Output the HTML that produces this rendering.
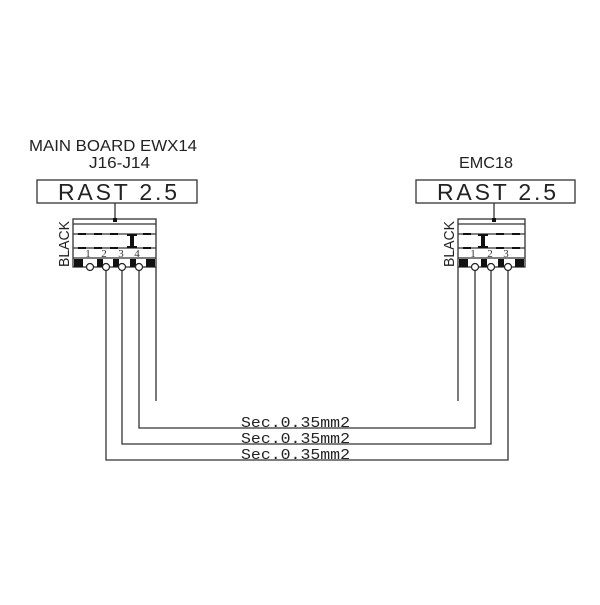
<!DOCTYPE html>
<html><head><style>body{margin:0;background:#fff}</style></head><body>
<svg width="600" height="600" xmlns="http://www.w3.org/2000/svg">
<rect width="600" height="600" fill="#fff"/>
<g font-family="Liberation Sans, sans-serif" fill="#222">
<text x="29" y="151" font-size="16" textLength="168" lengthAdjust="spacingAndGlyphs">MAIN BOARD EWX14</text>
<text x="89" y="168" font-size="16" textLength="61" lengthAdjust="spacingAndGlyphs">J16-J14</text>
<text x="459" y="168" font-size="16" textLength="54" lengthAdjust="spacingAndGlyphs">EMC18</text>
</g>
<g stroke="#333" stroke-width="1.3" fill="none">
<rect x="37" y="180" width="160" height="23"/>
<rect x="416" y="180" width="159" height="23"/>
<line x1="115" y1="203" x2="115" y2="220"/>
<line x1="494" y1="203" x2="494" y2="220"/>
<rect x="73" y="219" width="83" height="48"/>
<line x1="73" y1="224" x2="156" y2="224"/>
<line x1="73" y1="234" x2="156" y2="234"/>
<line x1="73" y1="248" x2="156" y2="248"/>
<line x1="73" y1="258" x2="156" y2="258"/>
<rect x="458" y="219" width="67" height="48"/>
<line x1="458" y1="224" x2="525" y2="224"/>
<line x1="458" y1="234" x2="525" y2="234"/>
<line x1="458" y1="248" x2="525" y2="248"/>
<line x1="458" y1="258" x2="525" y2="258"/>
<polyline points="106,270 106,460 508,460 508,270"/>
<polyline points="122,270 122,444 491,444 491,270"/>
<polyline points="139,270 139,428 475,428 475,270"/>
<line x1="156" y1="267" x2="156" y2="401"/>
<line x1="458" y1="267" x2="458" y2="401"/>
</g>
<g fill="#111">
<rect x="113" y="218" width="4" height="4"/>
<rect x="492" y="218" width="4" height="4"/>
<rect x="78" y="233" width="8" height="2"/><rect x="94" y="233" width="8" height="2"/><rect x="110" y="233" width="8" height="2"/><rect x="143" y="233" width="8" height="2"/>
<rect x="78" y="247" width="8" height="2"/><rect x="94" y="247" width="8" height="2"/><rect x="110" y="247" width="8" height="2"/><rect x="143" y="247" width="8" height="2"/>
<rect x="130" y="234" width="4" height="14"/><rect x="127" y="234" width="10" height="2"/><rect x="127" y="246" width="10" height="2"/>
<rect x="74" y="259" width="9" height="8"/><rect x="97" y="259" width="6" height="8"/><rect x="113" y="259" width="6" height="8"/><rect x="130" y="259" width="6" height="8"/><rect x="146" y="259" width="9" height="8"/>
<rect x="463" y="233" width="8" height="2"/><rect x="496" y="233" width="8" height="2"/><rect x="512" y="233" width="8" height="2"/>
<rect x="463" y="247" width="8" height="2"/><rect x="496" y="247" width="8" height="2"/><rect x="512" y="247" width="8" height="2"/>
<rect x="481" y="234" width="4" height="14"/><rect x="478" y="234" width="10" height="2"/><rect x="478" y="246" width="10" height="2"/>
<rect x="459" y="259" width="9" height="8"/><rect x="481" y="259" width="6" height="8"/><rect x="498" y="259" width="6" height="8"/><rect x="515" y="259" width="9" height="8"/>
</g>
<g stroke="#222" stroke-width="1.2" fill="#fff">
<circle cx="90" cy="267" r="3.5"/><circle cx="106" cy="267" r="3.5"/><circle cx="122" cy="267" r="3.5"/><circle cx="139" cy="267" r="3.5"/>
<circle cx="475" cy="267" r="3.5"/><circle cx="491" cy="267" r="3.5"/><circle cx="508" cy="267" r="3.5"/>
</g>
<g font-family="Liberation Serif, serif" font-size="11" fill="#333" text-anchor="middle">
<text x="88" y="257">1</text><text x="104" y="257">2</text><text x="121" y="257">3</text><text x="137" y="257">4</text>
<text x="473" y="257">1</text><text x="490" y="257">2</text><text x="506" y="257">3</text>
</g>
<g font-family="Liberation Sans, sans-serif" font-size="15" fill="#222">
<text transform="translate(69,267) rotate(-90)" textLength="46" lengthAdjust="spacingAndGlyphs">BLACK</text>
<text transform="translate(454,267) rotate(-90)" textLength="46" lengthAdjust="spacingAndGlyphs">BLACK</text>
</g>
<g font-family="Liberation Sans, sans-serif" fill="#222">
<text x="58" y="200" font-size="23" textLength="119" lengthAdjust="spacing">RAST 2.5</text>
<text x="437" y="200" font-size="23" textLength="119" lengthAdjust="spacing">RAST 2.5</text>
</g>
<g font-family="Liberation Mono, monospace" fill="#222" font-size="15">
<text x="241" y="427" textLength="109" lengthAdjust="spacingAndGlyphs">Sec.0.35mm2</text>
<text x="241" y="443" textLength="109" lengthAdjust="spacingAndGlyphs">Sec.0.35mm2</text>
<text x="241" y="459" textLength="109" lengthAdjust="spacingAndGlyphs">Sec.0.35mm2</text>
</g>
</svg>
</body></html>
